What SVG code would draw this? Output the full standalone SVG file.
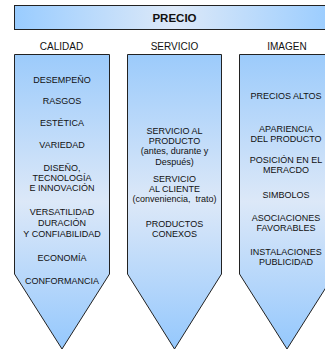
<svg xmlns="http://www.w3.org/2000/svg" width="325" height="349" viewBox="0 0 325 349">
  <defs>
    <linearGradient id="gH" x1="0" y1="0" x2="1" y2="0">
      <stop offset="0" stop-color="#99ccff"/>
      <stop offset="0.5" stop-color="#dde9f8"/>
      <stop offset="1" stop-color="#99ccff"/>
    </linearGradient>
    <linearGradient id="gV" x1="0" y1="0" x2="0" y2="1">
      <stop offset="0" stop-color="#9ccbfb"/>
      <stop offset="0.5" stop-color="#dce8f8"/>
      <stop offset="1" stop-color="#95c8fd"/>
    </linearGradient>
  </defs>
  <style>
    .box { fill: url(#gH); stroke: #222; stroke-width: 1; }
    .arrow { fill: url(#gV); stroke: #222; stroke-width: 1; }
    text { font-family: "Liberation Sans", Arial, sans-serif; fill: #111; text-anchor: middle; }
    .title { font-size: 11.5px; font-weight: bold; }
    .head { font-size: 10px; }
    .item { font-size: 9px; }
  </style>
  <rect width="325" height="349" fill="#ffffff"/>
  <g id="precio">
    <rect class="box" x="14.5" y="5.5" width="320" height="24"/>
    <text class="title" x="174.5" y="22">PRECIO</text>
  </g>
  <g id="calidad">
    <text class="head" x="61.5" y="50">CALIDAD</text>
    <polygon class="arrow" points="14.5,54.5 109.5,54.5 109.5,274 62,349 14.5,274"/>
    <text class="item" x="62" y="83">DESEMPEÑO</text>
    <text class="item" x="62" y="104">RASGOS</text>
    <text class="item" x="62" y="126">ESTÉTICA</text>
    <text class="item" x="62" y="148">VARIEDAD</text>
    <text class="item" x="62" y="171">DISEÑO,</text>
    <text class="item" x="62" y="181">TECNOLOGÍA</text>
    <text class="item" x="62" y="191">E INNOVACIÓN</text>
    <text class="item" x="62" y="215">VERSATILIDAD</text>
    <text class="item" x="62" y="226">DURACIÓN</text>
    <text class="item" x="62" y="236.5">Y CONFIABILIDAD</text>
    <text class="item" x="62" y="261">ECONOMÍA</text>
    <text class="item" x="62" y="283.5">CONFORMANCIA</text>
  </g>
  <g id="servicio">
    <text class="head" x="174.5" y="50">SERVICIO</text>
    <polygon class="arrow" points="127.5,54.5 221.5,54.5 221.5,274 174.5,349 127.5,274"/>
    <text class="item" x="174.5" y="134">SERVICIO AL</text>
    <text class="item" x="174.5" y="144">PRODUCTO</text>
    <text class="item" x="174.5" y="154">(antes, durante y</text>
    <text class="item" x="174.5" y="164.5">Después)</text>
    <text class="item" x="174.5" y="181.5">SERVICIO</text>
    <text class="item" x="174.5" y="191.5">AL CLIENTE</text>
    <text class="item" x="174.5" y="201.5">(conveniencia,&#160; trato)</text>
    <text class="item" x="174.5" y="227">PRODUCTOS</text>
    <text class="item" x="174.5" y="237">CONEXOS</text>
  </g>
  <g id="imagen">
    <text class="head" x="287" y="50">IMAGEN</text>
    <polygon class="arrow" points="239.5,54.5 334.5,54.5 334.5,274 287,349 239.5,274"/>
    <text class="item" x="286" y="98.5">PRECIOS ALTOS</text>
    <text class="item" x="286" y="131.5">APARIENCIA</text>
    <text class="item" x="286" y="141.5">DEL PRODUCTO</text>
    <text class="item" x="286" y="162.5">POSICIÓN EN EL</text>
    <text class="item" x="286" y="173">MERACDO</text>
    <text class="item" x="286" y="197.5">SIMBOLOS</text>
    <text class="item" x="286" y="220.5">ASOCIACIONES</text>
    <text class="item" x="286" y="230.5">FAVORABLES</text>
    <text class="item" x="286" y="255">INSTALACIONES</text>
    <text class="item" x="286" y="265">PUBLICIDAD</text>
  </g>
  <g id="connectors"/>
</svg>
